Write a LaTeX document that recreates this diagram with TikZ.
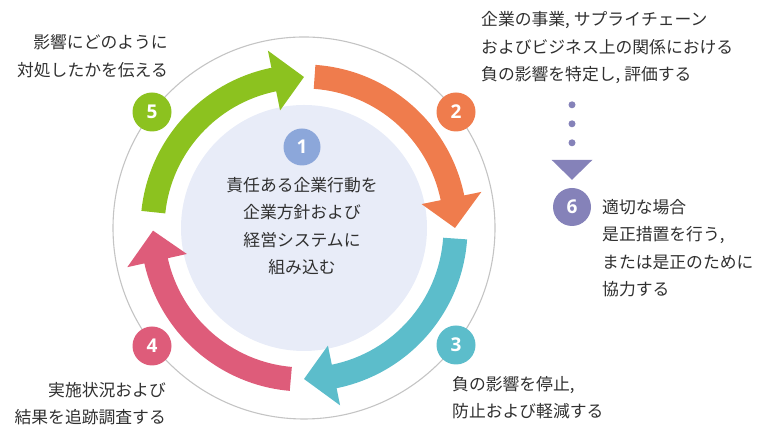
\documentclass[tikz,border=0pt]{standalone}
\usepackage{fontspec}
\newfontfamily\jp{Noto Sans CJK JP}
\newfontfamily\numf{Open Sans}
\usetikzlibrary{calc}
\definecolor{cgreen}{HTML}{8CC21F}
\definecolor{corange}{HTML}{EF7C4D}
\definecolor{cteal}{HTML}{5CBDCB}
\definecolor{cpink}{HTML}{DE5C7A}
\definecolor{cpurple}{HTML}{8582B9}
\definecolor{cblue}{HTML}{8CA7DA}
\definecolor{cinner}{HTML}{E8ECF8}
\definecolor{cring}{HTML}{C4C4C4}
\definecolor{ctext}{HTML}{303030}
\newcommand\jpcomma{,\hspace{4pt}}
\newcommand\cycarrow[3]{%
  \pgfmathsetmacro\cycB{#3+11.5}%
  \fill[#1] (#2:163.5pt) arc[start angle=#2, end angle=\cycB, radius=163.5pt]
    -- (\cycB:181pt) -- (#3:151pt) -- (\cycB:120pt) -- (\cycB:139.5pt)
    arc[start angle=\cycB, end angle=#2, radius=139.5pt] -- cycle;}
\tikzset{
  badge/.style={circle, minimum size=39pt, inner sep=0pt, text=white,
    font=\numf\bfseries\fontsize{19}{19}\selectfont},
  label/.style={inner sep=0pt, text=ctext, font=\jp\fontsize{16.8}{27.5}\selectfont}
}
\begin{document}
\begin{tikzpicture}[x=1pt,y=1pt]
\useasboundingbox (0,0) rectangle (768,443);
\coordinate (c) at (304,215);
\draw[cring, line width=1.1pt] (c) circle[radius=191pt];
\fill[cinner] (c) circle[radius=123pt];
\begin{scope}[shift={(c)}]
  \cycarrow{cgreen}{174}{90}
  \cycarrow{corange}{86}{0}
  \cycarrow{cteal}{-4}{-90}
  \cycarrow{cpink}{-95}{-179}
\end{scope}
\node[badge, fill=cblue, minimum size=37pt] (b1) at (302,296) {1};
\node[badge, fill=corange] (b2) at (456,331) {2};
\node[badge, fill=cteal] (b3) at (456,98) {3};
\node[badge, fill=cpink] (b4) at (152,97) {4};
\node[badge, fill=cgreen] (b5) at (152,331) {5};
\node[badge, fill=cpurple, minimum size=38pt] (b6) at (572,236) {6};

\node[label, align=center] (t1) at (302,217) {責任ある企業行動を\\企業方針および\\経営システムに\\組み込む};
\node[label, align=left, anchor=west] (t2) at (481,395) {企業の事業\jpcomma サプライチェーン\\およびビジネス上の関係における\\負の影響を特定し\jpcomma 評価する};
\node[label, align=left, anchor=west] (t3) at (452,45.5) {負の影響を停止,\\防止および軽減する};
\node[label, align=right, anchor=east] (t4) at (166,39.5) {実施状況および\\結果を追跡調査する};
\node[label, align=right, anchor=east] (t5) at (168,387) {影響にどのように\\対処したかを伝える};
\node[label, align=left, anchor=west] (t6) at (602,195) {適切な場合\\是正措置を行う,\\または是正のために\\協力する};

\coordinate (tip) at ($(b6.north)+(0,8pt)$);
\draw[cpurple, line width=7pt, line cap=round, dash pattern=on 0pt off 19pt]
  ($(tip)+(0,75pt)$) -- ($(tip)+(0,36pt)$);
\fill[cpurple] ($(tip)+(-20.5pt,20pt)$) -- ($(tip)+(20.5pt,20pt)$) -- (tip) -- cycle;
\end{tikzpicture}
\end{document}
